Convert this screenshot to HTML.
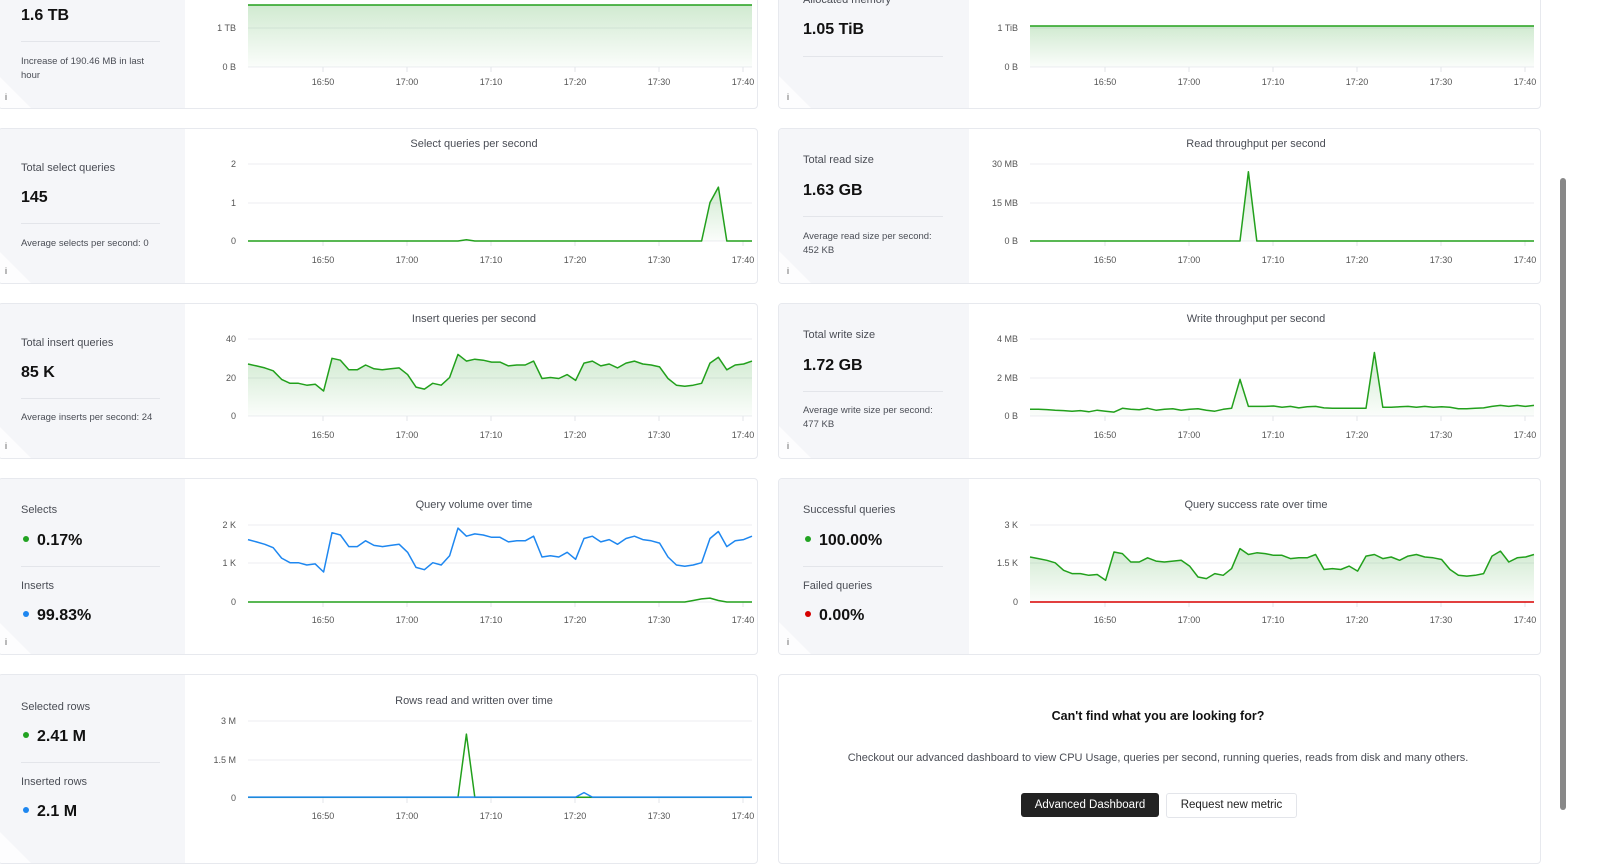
<!DOCTYPE html>
<html><head><meta charset="utf-8">
<style>
body{margin:0;width:1600px;height:846px;overflow:hidden;background:#fff;font-family:"Liberation Sans",sans-serif;position:relative}
.card{position:absolute;border:1px solid #e7e9ee;border-radius:4px;background:#fff;box-sizing:border-box;overflow:hidden}
.stat{position:absolute;left:0;top:0;bottom:0;width:186px;background:#f5f6f9}
.tri{position:absolute;left:0;bottom:0;width:0;height:0;border-left:32px solid #fff;border-top:32px solid transparent;opacity:.8}
.t{position:absolute;white-space:nowrap;color:#333}
.lab{font-size:11px;color:#4a4d55}
.val{font-size:16px;font-weight:bold;color:#111}
.sm{font-size:9.5px;color:#4a4d55;line-height:14px}
.sep{position:absolute;height:1px;background:#e3e5ea}
.dot{display:inline-block;width:6px;height:6px;border-radius:3px;margin-right:8px;vertical-align:middle;position:relative;top:-2px}
.info{position:absolute;font-size:9px;color:#555}
svg{position:absolute;left:0;top:0}
</style></head><body>

<div class="card" style="left:-2px;top:-10px;width:760px;height:119px"><div class="stat"><div class="tri"></div></div></div>
<div class="card" style="left:778px;top:-10px;width:763px;height:119px"><div class="stat" style="width:190px"><div class="tri"></div></div></div>
<div class="card" style="left:-2px;top:128px;width:760px;height:156px"><div class="stat"><div class="tri"></div></div></div>
<div class="card" style="left:778px;top:128px;width:763px;height:156px"><div class="stat" style="width:190px"><div class="tri"></div></div></div>
<div class="card" style="left:-2px;top:303px;width:760px;height:156px"><div class="stat"><div class="tri"></div></div></div>
<div class="card" style="left:778px;top:303px;width:763px;height:156px"><div class="stat" style="width:190px"><div class="tri"></div></div></div>
<div class="card" style="left:-2px;top:478px;width:760px;height:177px"><div class="stat"><div class="tri"></div></div></div>
<div class="card" style="left:778px;top:478px;width:763px;height:177px"><div class="stat" style="width:190px"><div class="tri"></div></div></div>
<div class="card" style="left:-2px;top:674px;width:760px;height:190px"><div class="stat"><div class="tri"></div></div></div>
<div class="card" style="left:778px;top:674px;width:763px;height:190px"></div>

<div class="t val" style="left:21px;top:7px">1.6 TB</div>
<div class="sep" style="left:21px;top:41px;width:139px"></div>
<div class="t sm" style="left:21px;top:55px;white-space:normal;width:140px">Increase of 190.46 MB in last hour</div>
<div class="t lab" style="left:803px;top:-6px">Allocated memory</div>
<div class="t val" style="left:803px;top:21px">1.05 TiB</div>
<div class="sep" style="left:803px;top:56px;width:140px"></div>

<div class="t lab" style="left:21px;top:162px">Total select queries</div>
<div class="t val" style="left:21px;top:189px">145</div>
<div class="sep" style="left:21px;top:223px;width:139px"></div>
<div class="t sm" style="left:21px;top:237px">Average selects per second: 0</div>
<div class="t lab" style="left:803px;top:154px">Total read size</div>
<div class="t val" style="left:803px;top:182px">1.63 GB</div>
<div class="sep" style="left:803px;top:216px;width:140px"></div>
<div class="t sm" style="left:803px;top:230px">Average read size per second:<br>452 KB</div>

<div class="t lab" style="left:21px;top:337px">Total insert queries</div>
<div class="t val" style="left:21px;top:364px">85 K</div>
<div class="sep" style="left:21px;top:398px;width:139px"></div>
<div class="t sm" style="left:21px;top:411px">Average inserts per second: 24</div>
<div class="t lab" style="left:803px;top:329px">Total write size</div>
<div class="t val" style="left:803px;top:357px">1.72 GB</div>
<div class="sep" style="left:803px;top:391px;width:140px"></div>
<div class="t sm" style="left:803px;top:404px">Average write size per second:<br>477 KB</div>

<div class="t lab" style="left:21px;top:504px">Selects</div>
<div class="t val" style="left:23px;top:532px"><span class="dot" style="background:#22a322"></span>0.17%</div>
<div class="sep" style="left:21px;top:566px;width:139px"></div>
<div class="t lab" style="left:21px;top:580px">Inserts</div>
<div class="t val" style="left:23px;top:607px"><span class="dot" style="background:#1e87f0"></span>99.83%</div>
<div class="t lab" style="left:803px;top:504px">Successful queries</div>
<div class="t val" style="left:805px;top:532px"><span class="dot" style="background:#22a322"></span>100.00%</div>
<div class="sep" style="left:803px;top:566px;width:140px"></div>
<div class="t lab" style="left:803px;top:580px">Failed queries</div>
<div class="t val" style="left:805px;top:607px"><span class="dot" style="background:#d60000"></span>0.00%</div>

<div class="t lab" style="left:21px;top:701px">Selected rows</div>
<div class="t val" style="left:23px;top:728px"><span class="dot" style="background:#22a322"></span>2.41 M</div>
<div class="sep" style="left:21px;top:762px;width:139px"></div>
<div class="t lab" style="left:21px;top:776px">Inserted rows</div>
<div class="t val" style="left:23px;top:803px"><span class="dot" style="background:#1e87f0"></span>2.1 M</div>

<div class="t" style="left:958px;width:400px;text-align:center;top:709px;font-size:12.5px;font-weight:bold;color:#111">Can't find what you are looking for?</div>
<div class="t" style="left:758px;width:800px;text-align:center;top:752px;font-size:11px;color:#4a4d55">Checkout our advanced dashboard to view CPU Usage, queries per second, running queries, reads from disk and many others.</div>
<div class="t" style="left:1021px;top:793px;width:138px;height:24px;background:#222;border-radius:3px;color:#fff;font-size:11.5px;line-height:24px;text-align:center">Advanced Dashboard</div>
<div class="t" style="left:1166px;top:793px;width:129px;height:23px;background:#fff;border:1px solid #e3e5ea;border-radius:3px;color:#222;font-size:11.5px;line-height:23px;text-align:center">Request new metric</div>

<div class="info" style="left:5px;top:92px">i</div><div class="info" style="left:787px;top:92px">i</div>
<div class="info" style="left:5px;top:266px">i</div><div class="info" style="left:787px;top:266px">i</div>
<div class="info" style="left:5px;top:441px">i</div><div class="info" style="left:787px;top:441px">i</div>
<div class="info" style="left:5px;top:637px">i</div><div class="info" style="left:787px;top:637px">i</div>

<div style="position:absolute;left:1560px;top:178px;width:6px;height:632px;background:#888;border-radius:3px"></div>

<svg id="s" width="1600" height="846" xmlns="http://www.w3.org/2000/svg">
<defs>
<linearGradient id="gg" x1="0" y1="0" x2="0" y2="1"><stop offset="0" stop-color="#2ca02c" stop-opacity=".22"/><stop offset="1" stop-color="#2ca02c" stop-opacity=".02"/></linearGradient>
</defs>
</svg>
<script>
const s=document.getElementById('s');let h=s.innerHTML;
const ins=[27,26,25,23.5,19,17,17,16,16.5,13,30,29,24,24,26.5,24.5,24,24.5,25,21.5,15,14,17,16,20,32,28.5,29.5,29,28,28,26,26.5,26.5,28.5,19.5,20,19.5,21.5,18.5,27.5,28.5,26,27,25,27.5,28.5,27,26.5,25.5,19.5,16,15.5,16,17,27.5,30.5,24,26.5,27,28.5];
const G='#22a01c',B='#1e87f0',R='#d90000';
function chart(x0,cx,title,ty,grid,labs,ly,series){
  if(title)h+=`<text x="${cx}" y="${ty}" font-size="11" fill="#4a4d55" text-anchor="middle" font-family="Liberation Sans">${title}</text>`;
  grid.forEach(g=>{h+=`<line x1="${x0}" x2="${x0+504}" y1="${g[0]}" y2="${g[0]}" stroke="#eceef1"/><text x="${x0-12}" y="${g[0]+3}" font-size="9" fill="#555" text-anchor="end" font-family="Liberation Sans">${g[1]}</text>`;});
  const by=grid[grid.length-1][0];
  ['16:50','17:00','17:10','17:20','17:30','17:40'].forEach((l,i)=>{const x=x0+75+84*i;h+=`<line x1="${x}" x2="${x}" y1="${by}" y2="${by+5}" stroke="#e3e5ea"/><text x="${x}" y="${ly}" font-size="9" fill="#555" text-anchor="middle" font-family="Liberation Sans">${l}</text>`;});
  series.forEach(se=>{
    const pts=se.p.map(p=>p[0].toFixed(1)+','+p[1].toFixed(1)).join(' ');
    if(se.fill)h+=`<polygon points="${se.p[0][0]},${by} ${pts} ${se.p[se.p.length-1][0]},${by}" fill="url(#gg)"/>`;
    h+=`<polyline points="${pts}" fill="none" stroke="${se.c}" stroke-width="1.5" stroke-linejoin="round"/>`;
  });
}
function ser(x0,y0,y1,vals){return vals.map((v,i)=>[x0+i*8.4,y0-(y0-y1)*v]);}
function flat(){const a=[];for(let i=0;i<=60;i++)a.push(0);return a;}
chart(248,500,'',0,[[28,'1 TB'],[67,'0 B']],[],85,[{c:G,fill:1,p:[[248,5],[752,5]]}]);
chart(1030,1282,'',0,[[28,'1 TiB'],[67,'0 B']],[],85,[{c:G,fill:1,p:[[1030,26],[1534,26]]}]);
let a=flat();a[26]=0.03;a[55]=1;a[56]=1.4;
chart(248,474,'Select queries per second',147,[[164,'2'],[203,'1'],[241,'0']],[],263,[{c:G,fill:1,p:ser(248,241,164,a.map(v=>v/2))}]);
a=flat();a[26]=27/30;
chart(1030,1256,'Read throughput per second',147,[[164,'30 MB'],[203,'15 MB'],[241,'0 B']],[],263,[{c:G,fill:1,p:ser(1030,241,164,a)}]);
chart(248,474,'Insert queries per second',322,[[339,'40'],[378,'20'],[416,'0']],[],438,[{c:G,fill:1,p:ser(248,416,339,ins.map(v=>v/40))}]);
const w=[0.35,0.35,0.33,0.3,0.28,0.25,0.28,0.22,0.3,0.25,0.2,0.4,0.35,0.32,0.4,0.3,0.35,0.38,0.3,0.35,0.38,0.3,0.25,0.35,0.4,1.9,0.5,0.5,0.5,0.52,0.45,0.5,0.42,0.48,0.5,0.42,0.4,0.4,0.4,0.4,0.4,3.3,0.45,0.45,0.48,0.5,0.45,0.5,0.45,0.48,0.45,0.38,0.38,0.4,0.42,0.5,0.55,0.5,0.55,0.5,0.55];
chart(1030,1256,'Write throughput per second',322,[[339,'4 MB'],[378,'2 MB'],[416,'0 B']],[],438,[{c:G,fill:1,p:ser(1030,416,339,w.map(v=>v/4))}]);
a=flat();a[53]=0.02;a[54]=0.04;a[55]=0.05;a[56]=0.02;
chart(248,474,'Query volume over time',508,[[525,'2 K'],[563,'1 K'],[602,'0']],[],623,[{c:G,p:ser(248,602,525,a)},{c:B,p:ser(248,602,525,ins.map(v=>v*60/2000))}]);
chart(1030,1256,'Query success rate over time',508,[[525,'3 K'],[563,'1.5 K'],[602,'0']],[],623,[{c:G,fill:1,p:ser(1030,602,525,ins.map(v=>v*65/3000))},{c:R,p:[[1030,602],[1534,602]]}]);
a=flat().map(v=>0.01);a[26]=0.83;
let b=flat().map(v=>0.012);b[40]=0.07;
chart(248,474,'Rows read and written over time',704,[[721,'3 M'],[760,'1.5 M'],[798,'0']],[],819,[{c:G,p:ser(248,798,721,a)},{c:B,p:ser(248,798,721,b)}]);
s.innerHTML=h;
</script>
</body></html>
